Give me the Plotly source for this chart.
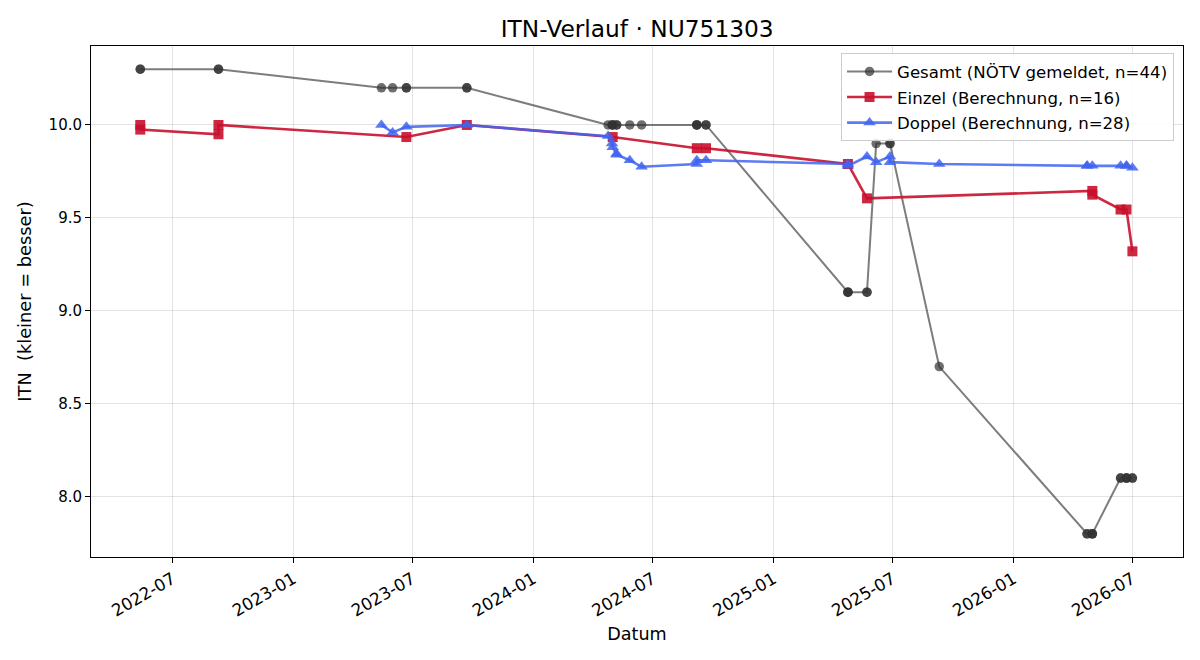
import plotly.graph_objects as go

# Gesamt (NÖTV gemeldet)
gesamt_dates = [
    "2022-05-13", "2022-05-13", "2022-09-09", "2022-09-09",
    "2023-05-15", "2023-06-01", "2023-06-22", "2023-06-22",
    "2023-09-22", "2023-09-22",
    "2024-04-24", "2024-04-30", "2024-05-01", "2024-05-01",
    "2024-05-07", "2024-05-07", "2024-05-27", "2024-06-14",
    "2024-09-06", "2024-09-06", "2024-09-06", "2024-09-20", "2024-09-20",
    "2025-04-24", "2025-04-24", "2025-04-24", "2025-05-23", "2025-05-23",
    "2025-06-06", "2025-06-27", "2025-06-27", "2025-09-10",
    "2026-04-23", "2026-04-23", "2026-05-01", "2026-05-01", "2026-05-01",
    "2026-06-13", "2026-06-13", "2026-06-22", "2026-06-22", "2026-06-22",
    "2026-07-01", "2026-07-01",
]
gesamt_vals = [
    10.3, 10.3, 10.3, 10.3,
    10.2, 10.2, 10.2, 10.2,
    10.2, 10.2,
    10.0, 10.0, 10.0, 10.0,
    10.0, 10.0, 10.0, 10.0,
    10.0, 10.0, 10.0, 10.0, 10.0,
    9.1, 9.1, 9.1, 9.1, 9.1,
    9.9, 9.9, 9.9, 8.7,
    7.8, 7.8, 7.8, 7.8, 7.8,
    8.1, 8.1, 8.1, 8.1, 8.1,
    8.1, 8.1,
]

# Einzel (Berechnung)
einzel_dates = [
    "2022-05-13", "2022-05-13", "2022-09-09", "2022-09-09",
    "2023-06-22", "2023-09-22", "2024-05-01", "2024-09-06", "2024-09-20",
    "2025-04-24", "2025-05-23", "2026-05-01", "2026-05-01",
    "2026-06-13", "2026-06-22", "2026-07-01",
]
einzel_vals = [
    10.0, 9.975, 9.95, 10.0,
    9.935, 10.0, 9.935, 9.875, 9.875,
    9.79, 9.605, 9.645, 9.625,
    9.545, 9.545, 9.32,
]

# Doppel (Berechnung)
doppel_dates = [
    "2023-05-15", "2023-06-01", "2023-06-22", "2023-09-22",
    "2024-04-24", "2024-04-30", "2024-05-01", "2024-05-07", "2024-05-07",
    "2024-05-27", "2024-06-14",
    "2024-09-06", "2024-09-06", "2024-09-20",
    "2025-04-24", "2025-04-24", "2025-05-23", "2025-06-06",
    "2025-06-27", "2025-06-27", "2025-09-10",
    "2026-04-23", "2026-04-23", "2026-05-01",
    "2026-06-13", "2026-06-22", "2026-06-22", "2026-07-01",
]
doppel_vals = [
    10.0, 9.96, 9.99, 10.0,
    9.94, 9.90, 9.88, 9.845, 9.84,
    9.81, 9.775,
    9.79, 9.81, 9.81,
    9.79, 9.78, 9.83, 9.80,
    9.83, 9.80, 9.79,
    9.78, 9.78, 9.78,
    9.78, 9.78, 9.78, 9.77,
]

FONT = "DejaVu Sans"

fig = go.Figure()
fig.add_trace(go.Scatter(
    x=gesamt_dates, y=gesamt_vals, mode="lines+markers",
    name="Gesamt (NÖTV gemeldet, n=44)", legendgroup="g",
    line=dict(color="rgba(70,70,70,0.7)", width=2),
    marker=dict(symbol="circle", size=9.5, color="rgba(50,50,50,0.7)"),
))
fig.add_trace(go.Scatter(
    x=einzel_dates, y=einzel_vals, mode="lines+markers",
    name="Einzel (Berechnung, n=16)", legendgroup="e",
    line=dict(color="rgba(200,16,46,0.9)", width=2.6),
    marker=dict(symbol="square", size=10, color="rgba(200,16,46,0.9)"),
))
fig.add_trace(go.Scatter(
    x=doppel_dates, y=doppel_vals, mode="lines+markers",
    name="Doppel (Berechnung, n=28)", legendgroup="d",
    line=dict(color="rgba(65,100,240,0.85)", width=2.6),
    marker=dict(symbol="triangle-up", size=11, color="rgba(65,100,240,0.85)"),
))

fig.update_layout(
    width=1200, height=660,
    margin=dict(l=91, r=17, t=46, b=103),
    paper_bgcolor="white", plot_bgcolor="white",
    font=dict(family=FONT, size=15, color="black"),
    title=dict(text="ITN-Verlauf · NU751303", x=0.531, xanchor="center",
               y=0.957, yanchor="middle", font=dict(size=23.3, family=FONT)),
    legend=dict(x=0.9918, xanchor="right", y=0.986, yanchor="top",
                bgcolor="rgba(255,255,255,0.85)", bordercolor="#cccccc",
                borderwidth=1, font=dict(size=16.6, family=FONT),
                tracegroupgap=1, itemwidth=45),
    showlegend=True,
)
fig.update_xaxes(
    type="date", range=["2022-02-27", "2026-09-16"],
    tick0="2022-01-01", dtick="M6", tickformat="%Y-%m", tickangle=-30,
    showgrid=True, gridcolor="rgba(176,176,176,0.35)", gridwidth=1,
    showline=True, linecolor="black", linewidth=1, mirror=True,
    ticks="outside", ticklen=5, tickcolor="black",
    tickfont=dict(size=16.8),
    title=dict(text="Datum", font=dict(size=17.6), standoff=8),
    zeroline=False,
)
fig.update_yaxes(
    range=[7.675, 10.425], tickvals=[8.0, 8.5, 9.0, 9.5, 10.0],
    tickformat=".1f",
    showgrid=True, gridcolor="rgba(176,176,176,0.35)", gridwidth=1,
    showline=True, linecolor="black", linewidth=1, mirror=True,
    ticks="outside", ticklen=5, tickcolor="black",
    tickfont=dict(size=15),
    title=dict(text="ITN  (kleiner = besser)", font=dict(size=17.8), standoff=12),
    zeroline=False,
)

fig.write_html("out.html")
